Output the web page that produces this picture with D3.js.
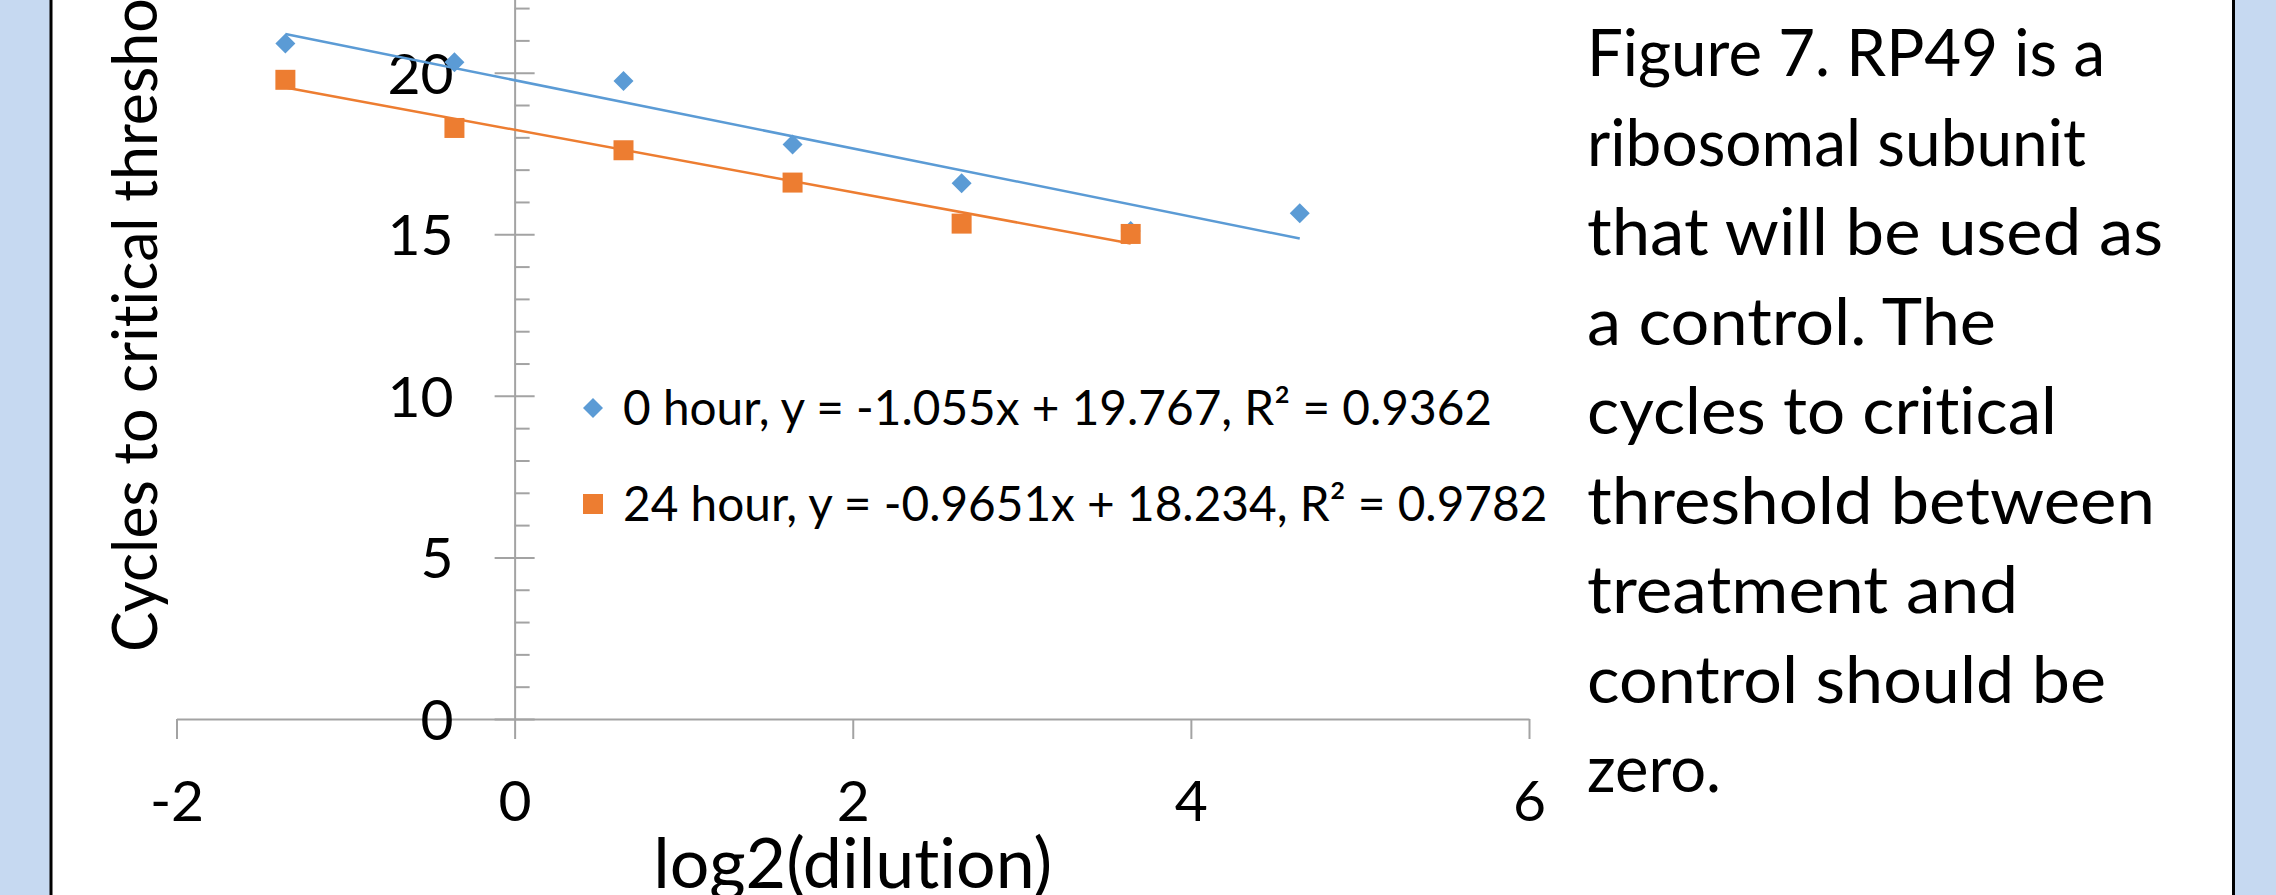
<!DOCTYPE html>
<html>
<head>
<meta charset="utf-8">
<script src="https://d3js.org/d3.v7.min.js"></script>
<style>
    html, body { margin: 0; padding: 0; background: #fff; overflow: hidden; }
    svg { display: block; font-family: Lato, "Open Sans", sans-serif; font-variant-ligatures: none; }
    .axis path, .axis line { stroke: #a3a3a3; stroke-width: 2; }
    .axis text { fill: #000; font-family: Lato, sans-serif; font-size: 57px; }
</style>
</head>
<body>
<div id="chart-area"></div>
<script>

// SVG Size
var width = 2276,
    height = 895;

// log2(dilution) of every sample, same for both time points
var dilutionLog2 = [-1.356, -0.356, 0.644, 1.644, 2.644, 3.644, 4.644];

// Cycles to critical threshold
var hour0Ct = [20.9, 20.32, 19.74, 17.78, 16.58, 15.1, 15.65];
var hour24Ct = [19.78, 18.29, 17.6, 16.6, 15.33, 15.01];

// Linear trendlines (y = slope * x + intercept)
var trendSlopes = [-1.055, -0.9651];
var trendIntercepts = [19.767, 18.234];

var seriesLabels = ["0 hour, y = -1.055x + 19.767, R² = 0.9362",
    "24 hour, y = -0.9651x + 18.234, R² = 0.9782"];
var seriesColors = ["#5B9BD5", "#ED7D31"];

var xTicks = [-2, 0, 2, 4, 6];
var yTicks = [0, 5, 10, 15, 20, 25];

var captionLines = ["Figure 7. RP49 is a", "ribosomal subunit", "that will be used as",
    "a control. The", "cycles to critical", "threshold between", "treatment and",
    "control should be", "zero."];
// width of each caption line in the original (narrow) font
var captionWidths = [518, 499, 576, 409, 470, 568, 431, 519, 134];


var svg = d3.select("#chart-area")
    .append("svg")
    .attr("width", width)
    .attr("height", height);

// poster frame: light blue bands with black borders
svg.append("rect").attr("x", 0).attr("y", 0).attr("width", 50).attr("height", height).attr("fill", "#C6D9F1");
svg.append("rect").attr("x", 2235).attr("y", 0).attr("width", width - 2235).attr("height", height).attr("fill", "#C6D9F1");
svg.append("line").attr("x1", 51).attr("x2", 51).attr("y1", 0).attr("y2", height)
    .attr("stroke", "#000").attr("stroke-width", 3);
svg.append("line").attr("x1", 2233.5).attr("x2", 2233.5).attr("y1", 0).attr("y2", height)
    .attr("stroke", "#000").attr("stroke-width", 3);


// scales (plot is cut off at the top, y runs up to 25)
var xScale = d3.scaleLinear()
    .domain([-2, 6])
    .range([176.5, 1529]);

var yScale = d3.scaleLinear()
    .domain([0, 25])
    .range([719, 719 - 25 * 32.315]);

// plain hyphen for negatives, like the original
var plainFormat = function (d) { return String(d); };


// axes
var xAxis = d3.axisBottom(xScale)
    .tickValues(xTicks)
    .tickFormat(plainFormat)
    .tickSize(20)
    .tickSizeOuter(0)
    .tickPadding(42);

var yAxis = d3.axisLeft(yScale)
    .tickValues(yTicks)
    .tickFormat(plainFormat)
    .tickSize(20)
    .tickSizeOuter(0)
    .tickPadding(41);

var yMinor = d3.axisRight(yScale)
    .tickValues(d3.range(1, 25).filter(function (v) { return v % 5 !== 0; }))
    .tickSize(15)
    .tickFormat("");

svg.append("g")
    .attr("class", "axis x-axis")
    .attr("transform", "translate(0," + yScale(0) + ")")
    .call(xAxis);

var yG = svg.append("g")
    .attr("class", "axis y-axis")
    .attr("transform", "translate(" + xScale(0) + ",0)")
    .call(yAxis);

// major y ticks cross the axis
yG.selectAll(".tick line").attr("x1", 20);
yG.selectAll(".tick text").attr("dy", "0.36em");

svg.append("g")
    .attr("class", "axis y-minor")
    .attr("transform", "translate(" + xScale(0) + ",0)")
    .call(yMinor)
    .select(".domain").remove();


// trendlines
var series = [hour0Ct, hour24Ct];

series.forEach(function (values, i) {
    var xs = dilutionLog2.slice(0, values.length);
    var ext = d3.extent(xs);
    svg.append("line")
        .attr("x1", xScale(ext[0]))
        .attr("y1", yScale(trendSlopes[i] * ext[0] + trendIntercepts[i]))
        .attr("x2", xScale(ext[1]))
        .attr("y2", yScale(trendSlopes[i] * ext[1] + trendIntercepts[i]))
        .attr("stroke", seriesColors[i])
        .attr("stroke-width", 2.5);
});

// markers: diamonds for 0 hour, squares for 24 hour
var diamond = d3.symbol().type(d3.symbolSquare).size(200);
var square = d3.symbol().type(d3.symbolSquare).size(400);

series.forEach(function (values, i) {
    svg.append("g")
        .selectAll("path")
        .data(values)
        .enter()
        .append("path")
        .attr("d", i === 0 ? diamond : square)
        .attr("fill", seriesColors[i])
        .attr("transform", function (d, j) {
            return "translate(" + xScale(dilutionLog2[j]) + "," + yScale(d) + ")" + (i === 0 ? "rotate(45)" : "");
        });
});


// legend
var legend = svg.append("g").attr("class", "legend");
var legendTexts = [];

seriesLabels.forEach(function (label, i) {
    var rowY = 425 + i * 96;
    legend.append("path")
        .attr("d", i === 0 ? diamond : square)
        .attr("fill", seriesColors[i])
        .attr("transform", "translate(593," + (rowY - 17) + ")" + (i === 0 ? "rotate(45)" : ""));
    legendTexts.push(legend.append("text")
        .attr("x", 623)
        .attr("y", rowY)
        .attr("font-size", 47.5)
        .attr("fill", "#000")
        .text(label));
});

// squeeze the text to the width of the original (narrower) font
var legendFactor = 869 / legendTexts[0].node().getComputedTextLength();
legendTexts.forEach(function (t) {
    t.attr("textLength", t.node().getComputedTextLength() * legendFactor)
        .attr("lengthAdjust", "spacingAndGlyphs");
});


// axis titles
svg.append("text")
    .attr("transform", "translate(157,652)rotate(-90)")
    .attr("font-size", 61)
    .attr("fill", "#000")
    .attr("textLength", 702)
    .attr("lengthAdjust", "spacingAndGlyphs")
    .text("Cycles to critical threshold");

svg.append("text")
    .attr("x", xScale(2))
    .attr("y", 888)
    .attr("text-anchor", "middle")
    .attr("font-size", 70)
    .attr("fill", "#000")
    .attr("textLength", 399)
    .attr("lengthAdjust", "spacingAndGlyphs")
    .text("log2(dilution)");


// caption on the right
var caption = svg.append("g").attr("class", "caption");
captionLines.forEach(function (line, i) {
    caption.append("text")
        .attr("x", 1587)
        .attr("y", 76 + i * 89.5)
        .attr("font-size", 66.5)
        .attr("fill", "#000")
        .attr("textLength", captionWidths[i])
        .attr("lengthAdjust", "spacingAndGlyphs")
        .text(line);
});

</script>
</body>
</html>
